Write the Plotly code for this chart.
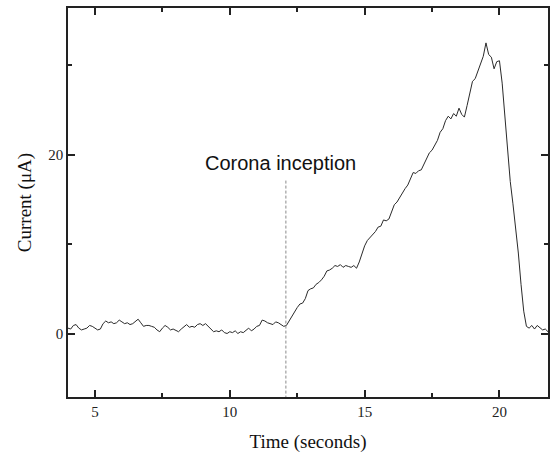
import numpy as np
import plotly.graph_objects as go

# Sampling grid of the recorded trace (seconds)
t_start = 4.0
t_step = 0.1

# Current (uA), one value per 0.1 s from 4.0 s to 21.8 s
current = [
    0.6, 0.5, 0.9, 1.0, 0.6, 0.4, 0.5, 0.6, 0.9, 0.8,      # 4.0-4.9
    0.6, 0.4, 0.5, 1.1, 1.4, 1.2, 1.3, 1.1, 1.2, 1.5,      # 5.0-5.9
    1.3, 1.1, 1.2, 1.0, 1.1, 1.3, 1.6, 1.2, 0.8, 0.9,      # 6.0-6.9
    0.9, 0.8, 0.7, 0.4, 0.2, 0.6, 0.9, 0.7, 0.4, 0.5,      # 7.0-7.9
    0.3, 0.2, 0.5, 0.8, 1.0, 0.7, 0.8, 0.7, 1.0, 1.1,      # 8.0-8.9
    0.9, 1.1, 0.8, 0.4, 0.2, 0.3, 0.2, 0.4, 0.1, 0.0,      # 9.0-9.9
    0.2, 0.1, 0.3, 0.0, 0.2, 0.1, 0.4, 0.6, 0.3, 0.5,      # 10.0-10.9
    0.8, 0.9, 1.5, 1.4, 1.2, 1.1, 1.0, 1.3, 1.2, 1.0,      # 11.0-11.9
    0.8, 0.9, 1.4, 2.0, 2.4, 2.9, 3.3, 3.4, 3.9, 4.8,      # 12.0-12.9
    5.0, 5.1, 5.5, 5.7, 6.0, 6.4, 7.0, 7.1, 7.3, 7.6,      # 13.0-13.9
    7.5, 7.7, 7.4, 7.6, 7.5, 7.4, 7.6, 7.3, 8.0, 8.9,      # 14.0-14.9
    9.8, 10.4, 10.7, 11.0, 11.4, 11.9, 12.0, 12.7, 12.6, 12.8,  # 15.0-15.9
    13.6, 14.4, 14.7, 15.2, 15.8, 16.2, 16.6, 17.4, 18.0, 17.9,  # 16.0-16.9
    18.2, 18.3, 18.9, 19.6, 20.2, 20.5, 21.0, 21.6, 22.5, 22.9,  # 17.0-17.9
    23.8, 24.3, 24.0, 24.6, 24.3, 25.2, 24.5, 24.2, 25.5, 26.8,  # 18.0-18.9
    28.2, 28.5, 29.4, 30.3, 31.0, 32.5, 31.2, 30.9, 29.6, 30.4,  # 19.0-19.9
    30.5, 28.0, 24.0, 20.5, 17.0, 14.5, 12.0, 9.0, 5.5, 2.5,     # 20.0-20.9
    0.8, 0.6, 0.9, 0.5, 0.9, 0.7, 0.4, 0.5, 0.2,                 # 21.0-21.8
]
time = t_start + t_step * np.arange(len(current))

inception_time = 12.08
inception_top = 17.1
annotation_text = "Corona inception"
x_title = "Time (seconds)"
y_title = "Current (μA)"
x_ticks = [5, 10, 15, 20]
y_ticks = [0, 20]

fig = go.Figure()
fig.add_trace(go.Scatter(
    x=time, y=current, mode="lines",
    line=dict(color="#2a2a2a", width=1),
    showlegend=False, hoverinfo="skip",
))
fig.add_trace(go.Scatter(
    x=[inception_time, inception_time], y=[inception_top, -7.1], mode="lines",
    line=dict(color="#8a8a8a", width=1, dash="3px,2px"),
    showlegend=False, hoverinfo="skip",
))
fig.add_annotation(
    x=inception_time - 0.2, y=inception_top + 2.0, xref="x", yref="y",
    text=annotation_text, showarrow=False,
    font=dict(family="Liberation Sans, Arial", size=20, color="#111"),
)

axis_common = dict(
    showline=True, linecolor="#222", linewidth=1.5, mirror="ticks",
    ticks="inside", ticklen=7, tickwidth=1.5, tickcolor="#222",
    showgrid=False, zeroline=False,
    tickfont=dict(family="Liberation Serif, Times New Roman", size=15, color="#222"),
)

fig.update_xaxes(
    range=[4.0, 21.8], tickvals=x_ticks,
    minor=dict(tickvals=[7.5, 12.5, 17.5], ticks="inside", ticklen=4, tickwidth=1.5, tickcolor="#222"),
    title=dict(text=x_title, font=dict(family="Liberation Serif, Times New Roman", size=19, color="#111"), standoff=16),
    **axis_common,
)
fig.update_yaxes(
    range=[-7.1, 36.4], tickvals=y_ticks,
    minor=dict(tickvals=[10, 30], ticks="inside", ticklen=4, tickwidth=1.5, tickcolor="#222"),
    title=dict(text=y_title, font=dict(family="Liberation Serif, Times New Roman", size=19, color="#111"), standoff=12),
    **axis_common,
)

fig.update_layout(
    width=551, height=458,
    margin=dict(l=68, r=1, t=8, b=61),
    paper_bgcolor="white", plot_bgcolor="white",
)

fig.write_html(
    "out.html",
    config={"displayModeBar": False},
    post_script="document.body.style.margin='0';document.body.style.padding='0';document.body.style.overflow='hidden';",
)
